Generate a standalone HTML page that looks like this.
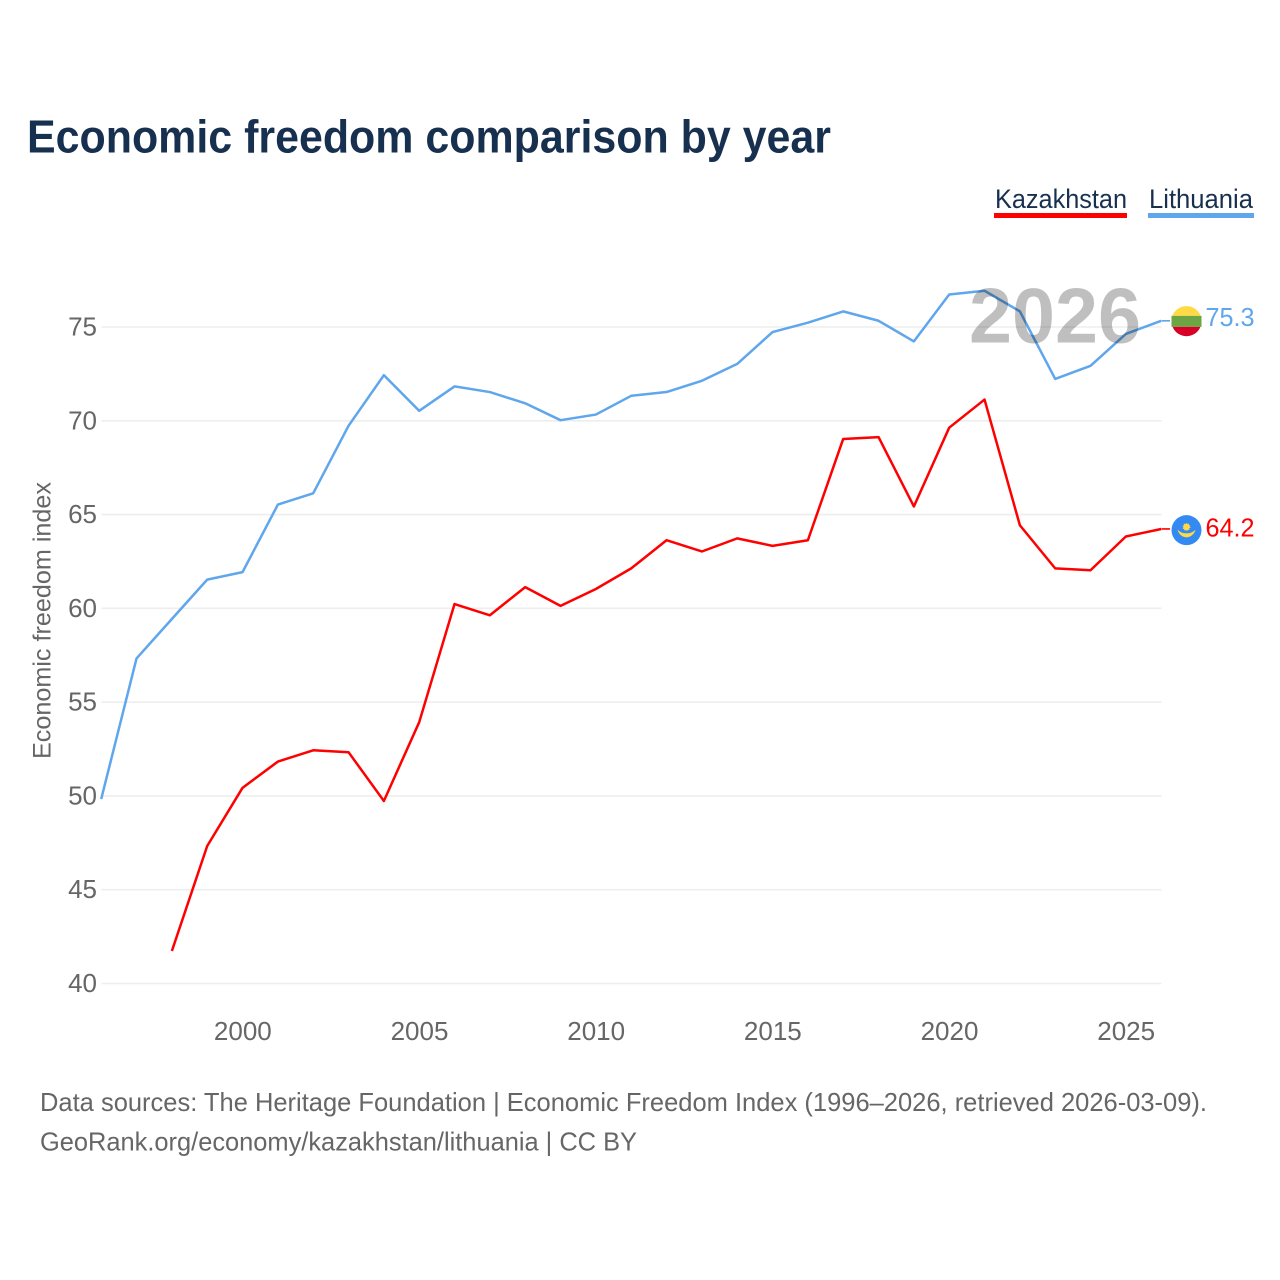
<!DOCTYPE html>
<html>
<head>
<meta charset="utf-8">
<title>Economic freedom comparison by year</title>
<style>
html,body{margin:0;padding:0;background:#fff;width:1280px;height:1280px;overflow:hidden}
svg{display:block;font-family:"Liberation Sans",sans-serif}
</style>
</head>
<body>
<svg id="chart" width="1280" height="1280" viewBox="0 0 1280 1280" xmlns="http://www.w3.org/2000/svg">
  <rect x="0" y="0" width="1280" height="1280" fill="#ffffff"/>
  <text x="27" y="152.5" font-size="46" font-weight="700" fill="#18304f" textLength="804" lengthAdjust="spacingAndGlyphs">Economic freedom comparison by year</text>

  <g>
    <text x="995" y="208" font-size="27" fill="#18304f" textLength="132" lengthAdjust="spacingAndGlyphs">Kazakhstan</text>
    <rect x="994" y="213" width="133" height="5" fill="#ff0000"/>
  </g>
  <g>
    <text x="1149" y="208" font-size="27" fill="#18304f" textLength="104" lengthAdjust="spacingAndGlyphs">Lithuania</text>
    <rect x="1148" y="213" width="106" height="5" fill="#5fa6ec"/>
  </g>

  <text transform="translate(50.5,759) rotate(-90)" font-size="25" fill="#666666" textLength="277" lengthAdjust="spacingAndGlyphs">Economic freedom index</text>

  <g id="grid"></g>
  <g id="y-ticks"></g>
  <g id="x-ticks"></g>
  <g id="series" transform="translate(-0.3,-0.6)"></g>
  <text x="969" y="342.5" font-size="78" font-weight="700" fill="#000000" fill-opacity="0.25" textLength="172" lengthAdjust="spacingAndGlyphs">2026</text>
  <g id="end-markers"></g>

  <text x="40" y="1111" font-size="26" fill="#666666" textLength="1167" lengthAdjust="spacingAndGlyphs">Data sources: The Heritage Foundation | Economic Freedom Index (1996–2026, retrieved 2026-03-09).</text>
  <text x="40" y="1150.5" font-size="26" fill="#666666" textLength="597" lengthAdjust="spacingAndGlyphs">GeoRank.org/economy/kazakhstan/lithuania | CC BY</text>
</svg>
<script>
const years = [1996,1997,1998,1999,2000,2001,2002,2003,2004,2005,2006,2007,2008,2009,2010,2011,2012,2013,2014,2015,2016,2017,2018,2019,2020,2021,2022,2023,2024,2025,2026];
const kazakhstanValues = [null,null,41.7,47.3,50.4,51.8,52.4,52.3,49.7,53.9,60.2,59.6,61.1,60.1,61.0,62.1,63.6,63.0,63.7,63.3,63.6,69.0,69.1,65.4,69.6,71.1,64.4,62.1,62.0,63.8,64.2];
const lithuaniaValues = [49.8,57.3,59.4,61.5,61.9,65.5,66.1,69.7,72.4,70.5,71.8,71.5,70.9,70.0,70.3,71.3,71.5,72.1,73.0,74.7,75.2,75.8,75.3,74.2,76.7,76.9,75.8,72.2,72.9,74.6,75.3];
const yTickValues = [40,45,50,55,60,65,70,75];
const xTickValues = [2000,2005,2010,2015,2020,2025];

const NS = 'http://www.w3.org/2000/svg';
const BLUE = '#5fa6ec';
const RED = '#ff0000';
function xScale(year){ return 101.5 + (year - 1996) * (1060 / 30); }
function yScale(value){ return 983.5 - (value - 40) * (656.5 / 35); }
function make(tag, attrs, parent){
  const el = document.createElementNS(NS, tag);
  for (const k in attrs) el.setAttribute(k, attrs[k]);
  parent.appendChild(el);
  return el;
}

const gridGroup = document.getElementById('grid');
const yTickGroup = document.getElementById('y-ticks');
yTickValues.forEach(function(v){
  const line = make('line', {x1:101.5, x2:1161.5, y1:yScale(v), y2:yScale(v), stroke:'#eeeeee', 'stroke-width':1.6}, gridGroup);
  
  
  const label = make('text', {x:97, y:yScale(v)+8.5, 'text-anchor':'end', 'font-size':26, fill:'#666666'}, yTickGroup);
  label.textContent = v;
  
  
});

const xTickGroup = document.getElementById('x-ticks');
xTickValues.forEach(function(y){
  const label = make('text', {x:xScale(y), y:1040, 'text-anchor':'middle', 'font-size':26, fill:'#666666'}, xTickGroup);
  label.textContent = y;
  
  
});

function pointsOf(values){
  const pts = [];
  values.forEach(function(v, i){
    if (v !== null) pts.push(xScale(years[i]).toFixed(2) + ',' + yScale(v).toFixed(2));
  });
  return pts.join(' ');
}

const seriesGroup = document.getElementById('series');
const kazLine = make('polyline', {points:pointsOf(kazakhstanValues), fill:'none', stroke:RED, 'stroke-width':2.5, 'stroke-linejoin':'round'}, seriesGroup);


const litLine = make('polyline', {points:pointsOf(lithuaniaValues), fill:'none', stroke:BLUE, 'stroke-width':2.5, 'stroke-linejoin':'round'}, seriesGroup);



const markers = document.getElementById('end-markers');
const flagX = 1186.5;
const lastYear = years[years.length - 1];

// Lithuania end marker
const litLast = lithuaniaValues[lithuaniaValues.length - 1];
const litY = yScale(litLast);
const litConnector = make('line', {x1:xScale(lastYear), x2:flagX, y1:litY - 0.6, y2:litY - 0.6, stroke:BLUE, 'stroke-width':1.6}, markers);


const litFlag = make('g', {transform:'translate(' + flagX + ',' + (litY - 0.5) + ')'}, markers);


make('circle', {r:16.5, fill:'#ffffff'}, litFlag);
make('path', {d:'M-14.2,-5 A15.2,15.2 0 0 1 14.2,-5 Z', fill:'#ffda44'}, litFlag);
make('rect', {x:-15, y:-5, width:30, height:11, fill:'#6da544'}, litFlag);
make('path', {d:'M-13.9,6 A15,15 0 0 0 13.9,6 Z', fill:'#d80027'}, litFlag);
const litValue = make('text', {x:1205.5, y:litY+4.5, 'font-size':26, fill:BLUE, textLength:49, lengthAdjust:'spacingAndGlyphs'}, markers);
litValue.textContent = litLast.toFixed(1);



// Kazakhstan end marker
const kazLast = kazakhstanValues[kazakhstanValues.length - 1];
const kazY = yScale(kazLast);
const kazConnector = make('line', {x1:xScale(lastYear), x2:flagX, y1:kazY - 0.6, y2:kazY - 0.6, stroke:RED, 'stroke-width':1.6}, markers);


const kazFlag = make('g', {transform:'translate(' + flagX + ',' + (kazY + 0.6) + ')'}, markers);


make('circle', {r:16.5, fill:'#ffffff'}, kazFlag);
make('circle', {r:15, fill:'#338af3'}, kazFlag);
make('circle', {cx:0, cy:-3.2, r:3.2, fill:'#ffda44', stroke:'#ffda44', 'stroke-width':1.4, 'stroke-dasharray':'1 1'}, kazFlag);
make('path', {d:'M-9,-0.5 C-5.5,3 -2.5,3.2 0,3.2 C2.5,3.2 5.5,3 9,-0.5 C8,4 4,7.2 0,7.2 C-4,7.2 -8,4 -9,-0.5 Z', fill:'#ffda44'}, kazFlag);
const kazValue = make('text', {x:1205.5, y:kazY+7, 'font-size':26, fill:RED, textLength:49, lengthAdjust:'spacingAndGlyphs'}, markers);
kazValue.textContent = kazLast.toFixed(1);


</script>
</body>
</html>
